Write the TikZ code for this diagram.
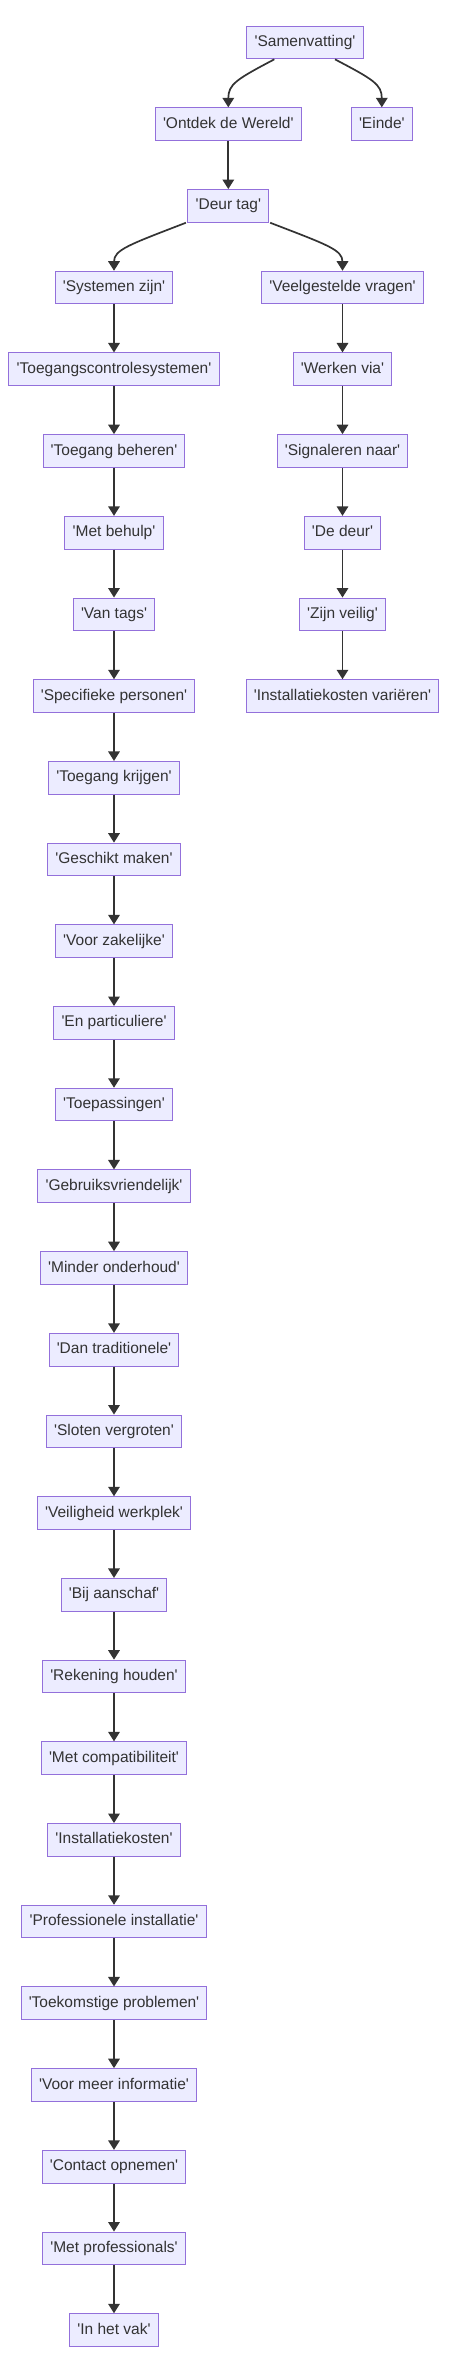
\documentclass[tikz,border=0pt]{standalone}
\usepackage{fontspec}
\setmainfont{Liberation Sans}[Ligatures=TeXOff]
\usetikzlibrary{arrows.meta}
\definecolor{boxfill}{HTML}{ECECFF}
\definecolor{boxdraw}{HTML}{9370DB}
\definecolor{txt}{HTML}{333333}
\definecolor{edge}{HTML}{333333}
\tikzset{
  box/.style={draw=boxdraw, fill=boxfill, line width=1pt, minimum height=32.7pt,
    inner xsep=7.7pt, inner ysep=0pt, text height=11.2pt, text depth=3.2pt,
    text=txt, font=\fontsize{15.5}{18}\selectfont},
  arr/.style={draw=edge, line width=1.7pt, -{Triangle[length=9.5pt,width=11.5pt]}}
}
\begin{document}
\begin{tikzpicture}[x=1pt,y=1pt]
\useasboundingbox (0,0) rectangle (456,-2373);
\node[box] (sam) at (305,-42.5) {'Samenvatting'};
\node[box] (ont) at (228.3,-124.2) {'Ontdek de Wereld'};
\node[box] (ein) at (381.8,-124.2) {'Einde'};
\node[box] (deur) at (228.3,-205.9) {'Deur tag'};
\foreach \t [count=\i from 3] in {'Systemen zijn','Toegangscontrolesystemen','Toegang beheren','Met behulp','Van tags','Specifieke personen','Toegang krijgen','Geschikt maken','Voor zakelijke','En particuliere','Toepassingen','Gebruiksvriendelijk','Minder onderhoud','Dan traditionele','Sloten vergroten','Veiligheid werkplek','Bij aanschaf','Rekening houden','Met compatibiliteit','Installatiekosten','Professionele installatie','Toekomstige problemen','Voor meer informatie','Contact opnemen','Met professionals','In het vak'}
  {\node[box] (l\i) at (114,{-(42.5+81.7*\i)}) {\t};}
\foreach \t [count=\i from 3] in {'Veelgestelde vragen','Werken via','Signaleren naar','De deur','Zijn veilig','Installatiekosten variëren'}
  {\node[box] (r\i) at (342.5,{-(42.5+81.7*\i)}) {\t};}
\draw[arr] ([xshift=-30.7pt]sam.south) .. controls ++(-38,-20) and ([yshift=23pt]ont.north) .. (ont.north);
\draw[arr] ([xshift=30pt]sam.south) .. controls ++(38,-20) and ([yshift=23pt]ein.north) .. (ein.north);
\draw[arr] (ont) -- (deur);
\draw[arr] ([xshift=-1.5pt]deur.south west) .. controls ++(-57,-22) and ([yshift=21pt]l3.north) .. (l3.north);
\draw[arr] ([xshift=1pt]deur.south east) .. controls ++(57,-22) and ([yshift=21pt]r3.north) .. (r3.north);
\foreach \i [evaluate=\i as \j using int(\i+1)] in {3,...,27} {\draw[arr] (l\i) -- (l\j);}
\foreach \i [evaluate=\i as \j using int(\i+1)] in {3,...,7} {\draw[arr] (r\i) -- (r\j);}
\end{tikzpicture}
\end{document}
